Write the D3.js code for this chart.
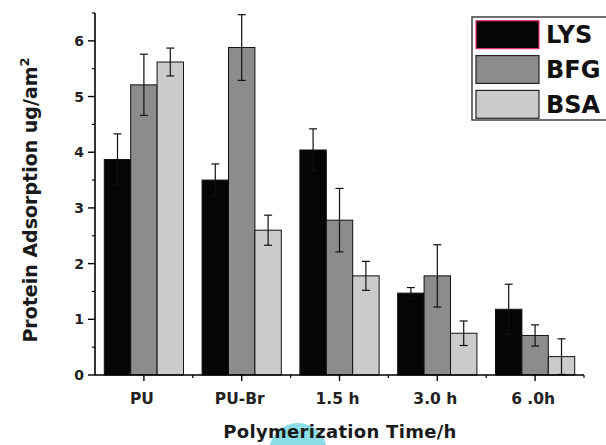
<!DOCTYPE html>
<html>
<head>
<meta charset="utf-8">
<script src="https://cdn.jsdelivr.net/npm/d3@7"></script>
<style>
  body { margin: 0; background: #fff; }
  svg { display: block; font-family: "DejaVu Sans", Arial, sans-serif; }
</style>
</head>
<body>
<div id="chart"></div>
<script>
// Chart data
const categories = ["PU", "PU-Br", "1.5 h", "3.0 h", "6 .0h"];
const series = ["LYS", "BFG", "BSA"];
const lysValues = [3.87, 3.50, 4.04, 1.47, 1.18];
const lysErrors = [0.46, 0.29, 0.38, 0.10, 0.45];
const bfgValues = [5.21, 5.88, 2.78, 1.78, 0.71];
const bfgErrors = [0.55, 0.59, 0.57, 0.56, 0.19];
const bsaValues = [5.62, 2.60, 1.78, 0.75, 0.33];
const bsaErrors = [0.25, 0.27, 0.26, 0.22, 0.32];
const yTicks = [0, 1, 2, 3, 4, 5, 6];

const width = 606;
const height = 445;
const colors = { LYS: "#050505", BFG: "#8c8c8c", BSA: "#cbcbcb" };

const values = { LYS: lysValues, BFG: bfgValues, BSA: bsaValues };
const errors = { LYS: lysErrors, BFG: bfgErrors, BSA: bsaErrors };

// flatten into one row per bar
const rows = [];
categories.forEach((c, i) => {
  series.forEach((s) => {
    rows.push({ cat: c, key: s, value: values[s][i], err: errors[s][i] });
  });
});

const svg = d3.select("#chart")
  .append("svg")
  .attr("width", width)
  .attr("height", height);

// Scales
const x0 = d3.scaleBand()
  .domain(categories)
  .range([95, 584])
  .paddingInner(0.19)
  .paddingOuter(0.095);

const x1 = d3.scaleBand()
  .domain(series)
  .range([0, x0.bandwidth()]);

const y = d3.scaleLinear()
  .domain([0, 6.5])
  .range([375, 13]);

const step = x0.step();
const xCenter = (c) => x0(c) + x0.bandwidth() / 2;

// watermark blob behind the x title
svg.append("circle")
  .attr("cx", 298)
  .attr("cy", 452)
  .attr("r", 29)
  .attr("fill", "#6fd4df")
  .attr("opacity", 0.8);

// Bars
svg.append("g")
  .selectAll("rect")
  .data(rows)
  .join("rect")
  .attr("x", (d) => x0(d.cat) + x1(d.key))
  .attr("y", (d) => y(d.value))
  .attr("width", x1.bandwidth())
  .attr("height", (d) => y(0) - y(d.value))
  .attr("fill", (d) => colors[d.key])
  .attr("stroke", "#111")
  .attr("stroke-width", 1);

// Error bars
const eb = svg.append("g")
  .attr("stroke", "#111")
  .attr("stroke-width", 1.2);

rows.forEach((d) => {
  const cx = x0(d.cat) + x1(d.key) + x1.bandwidth() / 2;
  const lo = Math.max(0, d.value - d.err);
  const hi = d.value + d.err;
  eb.append("line")
    .attr("x1", cx).attr("x2", cx)
    .attr("y1", y(lo)).attr("y2", y(hi));
  [lo, hi].forEach((v) => {
    eb.append("line")
      .attr("x1", cx - 4).attr("x2", cx + 4)
      .attr("y1", y(v)).attr("y2", y(v));
  });
});

// Y axis
const yAxis = svg.append("g");
yAxis.append("line")
  .attr("x1", 95).attr("x2", 95)
  .attr("y1", y(6.5)).attr("y2", y(0))
  .attr("stroke", "#000")
  .attr("stroke-width", 1.6);

yAxis.selectAll(".major")
  .data(yTicks)
  .join("line")
  .attr("x1", 88).attr("x2", 95)
  .attr("y1", (d) => y(d)).attr("y2", (d) => y(d))
  .attr("stroke", "#000")
  .attr("stroke-width", 1.4);

yAxis.selectAll(".minor")
  .data(yTicks.map((t) => t + 0.5))
  .join("line")
  .attr("x1", 92).attr("x2", 95)
  .attr("y1", (d) => y(d)).attr("y2", (d) => y(d))
  .attr("stroke", "#000")
  .attr("stroke-width", 1.2);

yAxis.selectAll("text")
  .data(yTicks)
  .join("text")
  .attr("x", 84)
  .attr("y", (d) => y(d))
  .attr("dy", "0.36em")
  .attr("text-anchor", "end")
  .attr("font-size", 14)
  .attr("font-weight", "bold")
  .attr("fill", "#222")
  .text((d) => d);

// X axis
const xAxis = svg.append("g");
xAxis.append("line")
  .attr("x1", 95).attr("x2", 584)
  .attr("y1", 375).attr("y2", 375)
  .attr("stroke", "#000")
  .attr("stroke-width", 1.6);

xAxis.selectAll(".major")
  .data(categories)
  .join("line")
  .attr("x1", (d) => xCenter(d)).attr("x2", (d) => xCenter(d))
  .attr("y1", 375).attr("y2", 381)
  .attr("stroke", "#000")
  .attr("stroke-width", 1.4);

xAxis.selectAll(".minor")
  .data(categories)
  .join("line")
  .attr("x1", (d) => xCenter(d) + step / 2).attr("x2", (d) => xCenter(d) + step / 2)
  .attr("y1", 375).attr("y2", 378)
  .attr("stroke", "#000")
  .attr("stroke-width", 1.2);

xAxis.selectAll("text")
  .data(categories)
  .join("text")
  .attr("x", (d) => xCenter(d) - 2)
  .attr("y", 404)
  .attr("text-anchor", "middle")
  .attr("font-size", 15.5)
  .attr("font-weight", "bold")
  .attr("fill", "#222")
  .text((d) => d);

// Axis titles
svg.append("text")
  .attr("x", 340)
  .attr("y", 438)
  .attr("text-anchor", "middle")
  .attr("font-size", 18)
  .attr("font-weight", "bold")
  .attr("letter-spacing", 0.3)
  .attr("fill", "#1a1a1a")
  .text("Polymerization Time/h");

const yTitle = svg.append("text")
  .attr("transform", "translate(37,200) rotate(-90)")
  .attr("text-anchor", "middle")
  .attr("font-size", 19)
  .attr("font-weight", "bold")
  .attr("fill", "#1a1a1a");
yTitle.append("tspan").text("Protein Adsorption ug/am");
yTitle.append("tspan")
  .attr("font-size", 13)
  .attr("dy", -8)
  .text("2");

// Legend
const legend = svg.append("g");
legend.append("rect")
  .attr("x", 472).attr("y", 17)
  .attr("width", 150).attr("height", 103)
  .attr("fill", "#fff")
  .attr("stroke", "#333")
  .attr("stroke-width", 1.4);

const ly = d3.scaleBand()
  .domain(series)
  .range([19, 120])
  .paddingInner(0.2)
  .paddingOuter(0.05);

legend.selectAll(".sw")
  .data(series)
  .join("rect")
  .attr("x", 476)
  .attr("y", (d) => ly(d))
  .attr("width", 63)
  .attr("height", ly.bandwidth())
  .attr("fill", (d) => colors[d])
  .attr("stroke", (d) => (d === "LYS" ? "#e0306a" : "#222"))
  .attr("stroke-width", 1.2);

legend.selectAll("text")
  .data(series)
  .join("text")
  .attr("x", 546)
  .attr("y", (d) => ly(d) + ly.bandwidth() / 2)
  .attr("dy", "0.36em")
  .attr("font-size", 24)
  .attr("font-weight", "bold")
  .attr("fill", "#111")
  .text((d) => d);
</script>
</body>
</html>
